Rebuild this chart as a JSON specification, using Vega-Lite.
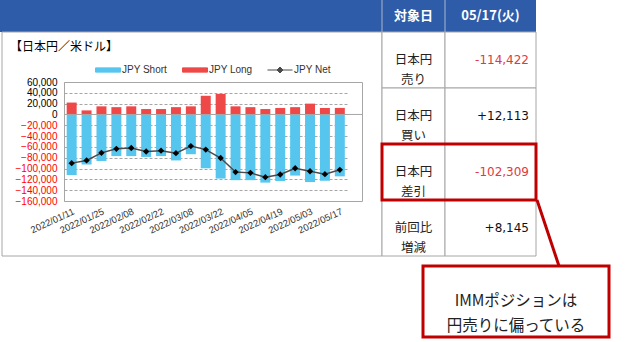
{
  "$schema": "https://vega.github.io/schema/vega-lite/v6.json",
  "width": 298,
  "height": 119,
  "autosize": {"type": "none"},
  "padding": {"left": 64, "top": 82, "right": 276, "bottom": 141},
  "background": "white",
  "config": {"view": {"stroke": "#a6a6a6", "strokeWidth": 1}, "font": "Liberation Sans"},
  "datasets": {
    "cot": [
      {"date": "2022/01/11", "short": -112000, "long": 22000, "net": -90000},
      {"date": "2022/01/18", "short": -92500, "long": 7500, "net": -85000},
      {"date": "2022/01/25", "short": -86000, "long": 15000, "net": -71000},
      {"date": "2022/02/01", "short": -77000, "long": 13500, "net": -63500},
      {"date": "2022/02/08", "short": -77000, "long": 15000, "net": -62000},
      {"date": "2022/02/15", "short": -78500, "long": 10000, "net": -68500},
      {"date": "2022/02/22", "short": -77000, "long": 10000, "net": -67000},
      {"date": "2022/03/01", "short": -85000, "long": 13500, "net": -71500},
      {"date": "2022/03/08", "short": -73500, "long": 15000, "net": -58500},
      {"date": "2022/03/15", "short": -99500, "long": 34500, "net": -65000},
      {"date": "2022/03/22", "short": -118500, "long": 38000, "net": -80500},
      {"date": "2022/03/29", "short": -121500, "long": 15000, "net": -106500},
      {"date": "2022/04/05", "short": -121500, "long": 13500, "net": -108000},
      {"date": "2022/04/12", "short": -126000, "long": 10000, "net": -116000},
      {"date": "2022/04/19", "short": -123000, "long": 12000, "net": -111000},
      {"date": "2022/04/26", "short": -113000, "long": 13500, "net": -99500},
      {"date": "2022/05/03", "short": -125000, "long": 20000, "net": -105000},
      {"date": "2022/05/10", "short": -122454, "long": 12000, "net": -110454},
      {"date": "2022/05/17", "short": -114422, "long": 12113, "net": -102309}
    ],
    "table": [
      {"row": 1, "item": "日本円\n売り", "value": -114422, "label": "-114,422"},
      {"row": 2, "item": "日本円\n買い", "value": 12113, "label": "+12,113"},
      {"row": 3, "item": "日本円\n差引", "value": -102309, "label": "-102,309"},
      {"row": 4, "item": "前回比\n増減", "value": 8145, "label": "+8,145"}
    ]
  },
  "resolve": {"scale": {"x": "independent", "y": "independent"}},
  "layer": [
    {
      "data": {"values": [{"part": "header"}]},
      "mark": {"type": "rect", "fill": "#2e5ca9", "strokeWidth": 0},
      "encoding": {"x": {"value": -64}, "x2": {"value": 472}, "y": {"value": -82}, "y2": {"value": -50}}
    },
    {
      "data": {"values": [{"part": "divider"}]},
      "mark": {"type": "rule", "color": "#a9b6cc", "strokeWidth": 1},
      "encoding": {"x": {"value": 318}, "y": {"value": -82}, "y2": {"value": -50}}
    },
    {
      "data": {"values": [{"part": "divider"}]},
      "mark": {"type": "rule", "color": "#a9b6cc", "strokeWidth": 1},
      "encoding": {"x": {"value": 381}, "y": {"value": -82}, "y2": {"value": -50}}
    },
    {
      "data": {"values": [{"h": "対象日"}]},
      "mark": {"type": "text", "font": "Noto Sans CJK JP", "fontSize": 13, "fontWeight": "bold", "color": "white", "align": "center", "baseline": "middle"},
      "encoding": {"x": {"value": 349.5}, "y": {"value": -66}, "text": {"field": "h"}}
    },
    {
      "data": {"values": [{"h": "05/17(火)"}]},
      "mark": {"type": "text", "font": "Noto Sans CJK JP", "fontSize": 13, "fontWeight": "bold", "color": "white", "align": "center", "baseline": "middle"},
      "encoding": {"x": {"value": 426.5}, "y": {"value": -66}, "text": {"field": "h"}}
    },
    {
      "data": {"values": [{"part": "chartcell"}]},
      "mark": {"type": "rect", "fillOpacity": 0, "stroke": "#a6a6a6", "strokeWidth": 1},
      "encoding": {"x": {"value": -62}, "x2": {"value": 318}, "y": {"value": -50}, "y2": {"value": 174}}
    },
    {
      "data": {"values": [{"title": "【日本円／米ドル】"}]},
      "mark": {"type": "text", "font": "Noto Sans CJK JP", "fontSize": 12, "align": "left", "baseline": "middle", "color": "#000000"},
      "encoding": {"x": {"value": -54}, "y": {"value": -35}, "text": {"field": "title"}}
    },
    {
      "data": {"name": "cot"},
      "layer": [
        {
          "mark": {"type": "bar"},
          "encoding": {
            "x": {"field": "date", "type": "ordinal", "scale": {"type": "band", "paddingInner": 0.33, "paddingOuter": 0.18, "range": [0, 283.5]},
              "axis": {"title": null, "values": ["2022/01/11", "2022/01/25", "2022/02/08", "2022/02/22", "2022/03/08", "2022/03/22", "2022/04/05", "2022/04/19", "2022/05/03", "2022/05/17"], "labelAngle": -25, "labelFontSize": 9.5, "labelFont": "Liberation Sans", "labelColor": "#333333", "ticks": false, "domain": false, "labelPadding": 5, "grid": false}},
            "y": {"field": "short", "type": "quantitative", "scale": {"domain": [-160000, 60000], "nice": false},
              "axis": {"title": null, "values": [60000, 40000, 20000, 0, -20000, -40000, -60000, -80000, -100000, -120000, -140000, -160000], "tickCount": 12, "format": ",.0f", "labelOverlap": false, "labelFontSize": 10, "labelFont": "Liberation Sans", "labelColor": {"condition": {"test": "datum.value < 0", "value": "#ff0000"}, "value": "#000000"}, "ticks": false, "domain": false, "labelPadding": 7, "grid": true, "gridDash": [3, 2], "gridColor": "#a6a6a6"}},
            "color": {"datum": "JPY Short", "type": "nominal",
              "scale": {"domain": ["JPY Short", "JPY Long", "JPY Net"], "range": ["#56c6ef", "#ee4848", "#4a4a4a"]},
              "legend": {"orient": "none", "legendX": 31, "legendY": -25, "direction": "horizontal", "title": null, "labelFont": "Liberation Sans", "labelFontSize": 10, "labelColor": "#333333", "symbolSize": 625, "labelOffset": 1, "columnPadding": 12, "padding": 0,
                "encode": {"symbols": {"update": {
                  "shape": {"signal": "datum.value === 'JPY Net' ? 'M-1,0H1M0,-0.24L0.24,0L0,0.24L-0.24,0Z' : 'M-1,-0.17H1V0.17H-1Z'"},
                  "fill": {"signal": "datum.value === 'JPY Net' ? '#000000' : (datum.value === 'JPY Short' ? '#56c6ef' : '#ee4848')"},
                  "stroke": {"signal": "datum.value === 'JPY Net' ? '#000000' : (datum.value === 'JPY Short' ? '#56c6ef' : '#ee4848')"},
                  "strokeWidth": {"value": 1},
                  "opacity": {"value": 1}, "fillOpacity": {"value": 1}, "strokeOpacity": {"value": 1}}}}}}
          }
        },
        {
          "mark": {"type": "bar"},
          "encoding": {
            "x": {"field": "date", "type": "ordinal"},
            "y": {"field": "long", "type": "quantitative"},
            "color": {"datum": "JPY Long", "type": "nominal"}
          }
        },
        {
          "data": {"values": [{"zero": 0}]},
          "mark": {"type": "rule", "color": "#a6a6a6", "strokeWidth": 1},
          "encoding": {"y": {"field": "zero", "type": "quantitative"}}
        },
        {
          "mark": {"type": "line", "strokeWidth": 1.5},
          "encoding": {
            "x": {"field": "date", "type": "ordinal", "bandPosition": 0.5},
            "y": {"field": "net", "type": "quantitative"},
            "color": {"datum": "JPY Net", "type": "nominal"}
          }
        },
        {
          "mark": {"type": "point", "shape": "diamond", "filled": true, "color": "#000000", "size": 40, "opacity": 1},
          "encoding": {
            "x": {"field": "date", "type": "ordinal", "bandPosition": 0.5},
            "y": {"field": "net", "type": "quantitative"}
          }
        }
      ]
    },
    {
      "data": {"name": "table"},
      "layer": [
        {
          "mark": {"type": "rect", "fill": "white", "stroke": "#a6a6a6", "strokeWidth": 1},
          "encoding": {"x": {"value": 318}, "x2": {"value": 381},
            "y": {"field": "row", "type": "ordinal", "scale": {"type": "band", "range": [-50, 174], "paddingInner": 0, "paddingOuter": 0}, "axis": null}}
        },
        {
          "mark": {"type": "rect", "fill": "white", "stroke": "#a6a6a6", "strokeWidth": 1},
          "encoding": {"x": {"value": 381}, "x2": {"value": 472},
            "y": {"field": "row", "type": "ordinal", "axis": null}}
        },
        {
          "mark": {"type": "text", "font": "Noto Sans CJK JP", "fontSize": 12.5, "lineBreak": "\n", "lineHeight": 20, "align": "center", "baseline": "middle", "color": "#222222"},
          "encoding": {"x": {"value": 349.5},
            "y": {"field": "row", "type": "ordinal", "bandPosition": 0.5, "axis": null},
            "text": {"field": "item"}}
        },
        {
          "mark": {"type": "text", "font": "DejaVu Sans", "fontSize": 12, "align": "right", "baseline": "middle"},
          "encoding": {"x": {"value": 465},
            "y": {"field": "row", "type": "ordinal", "bandPosition": 0.5, "axis": null},
            "text": {"field": "label"},
            "color": {"condition": {"test": "datum.value < 0", "value": "#e0393e"}, "value": "#111111"}}
        },
        {
          "transform": [{"filter": "datum.row === 3"}],
          "mark": {"type": "rect", "fillOpacity": 0, "stroke": "#c00000", "strokeWidth": 3},
          "encoding": {"x": {"value": 318}, "x2": {"value": 472},
            "y": {"field": "row", "type": "ordinal", "axis": null}}
        }
      ]
    },
    {
      "data": {"values": [{"part": "connector"}]},
      "mark": {"type": "rule", "color": "#c00000", "strokeWidth": 3},
      "encoding": {"x": {"value": 473}, "y": {"value": 118}, "x2": {"value": 495}, "y2": {"value": 184}}
    },
    {
      "data": {"values": [{"part": "callout"}]},
      "mark": {"type": "rect", "fill": "white", "stroke": "#c00000", "strokeWidth": 3},
      "encoding": {"x": {"value": 359}, "x2": {"value": 545}, "y": {"value": 184}, "y2": {"value": 255}}
    },
    {
      "data": {"values": [{"note": "IMMポジションは\n円売りに偏っている"}]},
      "mark": {"type": "text", "font": "Noto Sans CJK JP", "fontSize": 15.5, "lineBreak": "\n", "lineHeight": 25, "align": "center", "baseline": "middle", "color": "#222222"},
      "encoding": {"x": {"value": 452}, "y": {"value": 218.5}, "text": {"field": "note"}}
    }
  ]
}
